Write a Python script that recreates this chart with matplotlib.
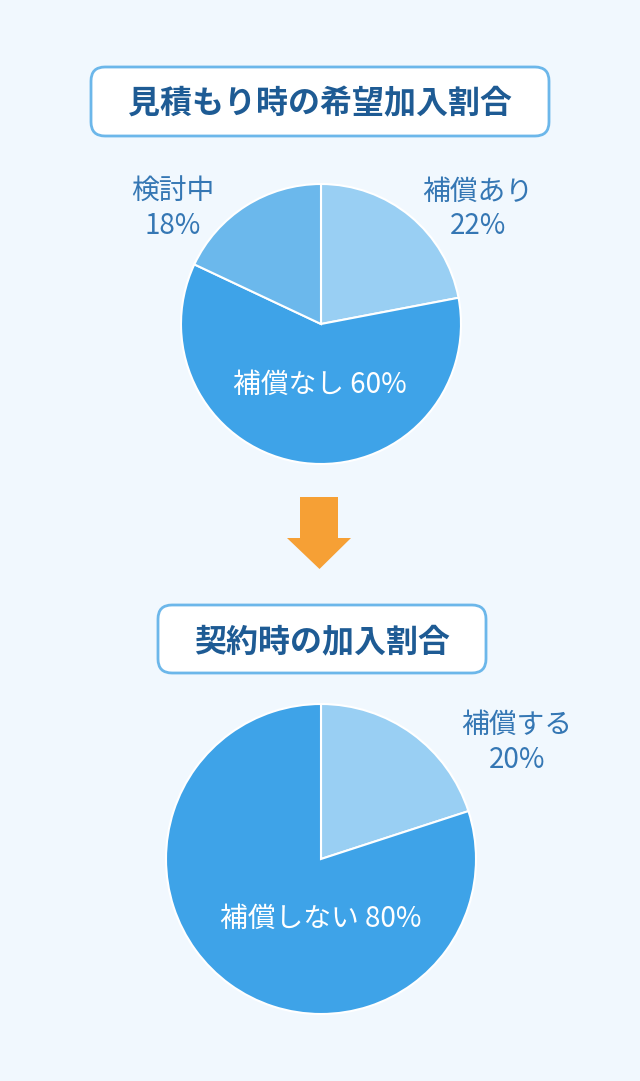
import matplotlib
matplotlib.use("Agg")
import matplotlib.pyplot as plt
from matplotlib.patches import FancyBboxPatch, Polygon

plt.rcParams['font.family'] = ['Noto Sans CJK JP', 'DejaVu Sans']

# data
title1 = "見積もり時の希望加入割合"
labels1 = ["補償あり", "補償なし", "検討中"]
values1 = [22, 60, 18]
colors1 = ["#99cff3", "#3ea3e8", "#6bb8ec"]

title2 = "契約時の加入割合"
labels2 = ["補償する", "補償しない"]
values2 = [20, 80]
colors2 = ["#99cff3", "#3ea3e8"]

W, H = 640, 1081
BG = "#f1f8fe"
LABEL = "#3577b4"
TITLE = "#1e5b94"
FS = 20
DY = 3  # CJK glyphs sit a little high with va="center"


def Y(y):
    # pixel-from-top to data y
    return H - y


fig = plt.figure(figsize=(W / 100, H / 100), dpi=100, facecolor=BG)
ax = fig.add_axes([0, 0, 1, 1])
ax.set_facecolor(BG)


def title_box(x0, x1, y0, y1, text):
    box = FancyBboxPatch((x0 + 14, Y(y1) + 14), (x1 - x0) - 28, (y1 - y0) - 28,
                         boxstyle="round,pad=14", fc="white", ec="#6cb7ea", lw=2)
    ax.add_patch(box)
    ax.text((x0 + x1) / 2, Y((y0 + y1) / 2 + DY), text, ha="center", va="center",
            fontsize=23, fontweight="bold", color=TITLE)


def label(x, y, s, color=LABEL):
    ax.text(x, Y(y + DY), s, ha="center", va="center", fontsize=FS, color=color)


# top chart
title_box(91, 549, 67, 136, title1)
ax.pie(values1, colors=colors1, center=(321, Y(324)), radius=140, startangle=90,
       counterclock=False, wedgeprops=dict(ec="white", lw=1.5), frame=True)
label(478, 189, labels1[0])
label(478, 223, f"{values1[0]}%")
label(173, 189, labels1[2])
label(173, 223, f"{values1[2]}%")
label(320, 382, f"{labels1[1]} {values1[1]}%", "white")

# arrow
arrow = Polygon([(300, Y(497)), (338, Y(497)), (338, Y(538)), (351, Y(538)),
                 (319.5, Y(569)), (287, Y(538)), (300, Y(538))],
                closed=True, fc="#f6a035", ec="none")
ax.add_patch(arrow)

# bottom chart
title_box(158, 486, 605, 673, title2)
ax.pie(values2, colors=colors2, center=(321, Y(859)), radius=155, startangle=90,
       counterclock=False, wedgeprops=dict(ec="white", lw=1.5), frame=True)
label(517, 722, labels2[0])
label(517, 757, f"{values2[0]}%")
label(321, 916, f"{labels2[1]} {values2[1]}%", "white")

ax.set_xlim(0, W)
ax.set_ylim(0, H)
ax.set_aspect("equal")
ax.axis("off")

fig.savefig("out.png", dpi=100, facecolor=BG)
